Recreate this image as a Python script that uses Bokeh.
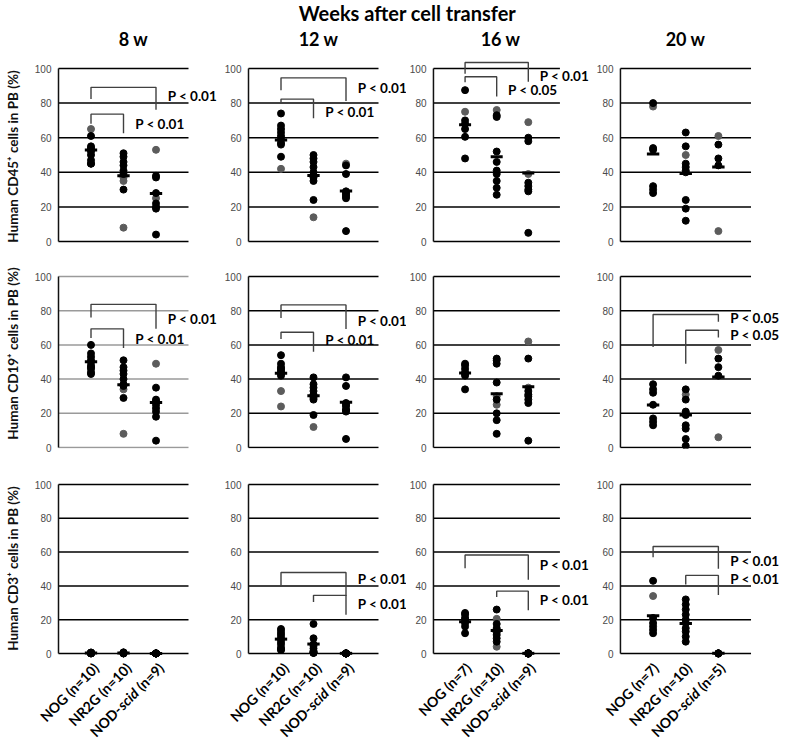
import math
from bokeh.plotting import figure
from bokeh.layouts import column, row
from bokeh.models import Range1d, FixedTicker
from bokeh.core.properties import value
from bokeh.embed import file_html
from bokeh.resources import INLINE

# ---------------- categories / labels ----------------
groups = ["NOG", "NR2G", "NOD-scid"]
group_x = [1, 2, 3]
week_titles = ["8 w", "12 w", "16 w", "20 w"]
main_title = "Weeks after cell transfer"
row_titles = ["Human CD45\u207a cells in PB (%)",
              "Human CD19\u207a cells in PB (%)",
              "Human CD3\u207a cells in PB (%)"]
n_mice = [[10, 10, 9], [10, 10, 9], [7, 10, 9], [7, 10, 5]]
y_ticks = [0, 20, 40, 60, 80, 100]

# ---------------- CD45 ----------------
cd45_w8_black = [[61, 55, 54, 53, 52, 50, 47, 45, 45], [51, 49, 46, 44, 41, 39, 30], [38, 37, 28, 22, 20, 19, 4]]
cd45_w8_gray = [[65], [37, 35, 8], [53, 25]]
cd45_w8_mean = [52.9, 38.0, 27.7]
cd45_w8_br = [(1, 3, 89.1, 82.4, 76.2, "P < 0.01", 84.0), (1, 2, 73.6, 68.0, 62.6, "P < 0.01", 67.8)]

cd45_w12_black = [[74, 67, 65, 63, 61, 59, 57, 56, 49], [50, 48, 46, 43, 40, 38, 37, 35, 24], [44, 39, 29, 28, 27, 26, 25, 6]]
cd45_w12_gray = [[42], [14], [45]]
cd45_w12_mean = [58.7, 38.1, 29.2]
cd45_w12_br = [(1, 3, 94.6, 87.5, 81.2, "P < 0.01", 88.5), (1, 2, 82.3, 79.8, 71.2, "P < 0.01", 75.0)]

cd45_w16_black = [[87.5, 70, 68, 65, 60.5, 48], [73, 72, 52, 46, 41, 39, 35, 31, 27], [60, 58, 34, 32, 30, 29, 5]]
cd45_w16_gray = [[75], [76], [69, 39]]
cd45_w16_mean = [67.5, 49.0, 39.6]
cd45_w16_br = [(1, 3, 103.5, 97.0, 92.3, "P < 0.01", 95.8), (1, 2, 95.2, 92.0, 83.8, "P < 0.05", 87.5)]

cd45_w20_black = [[80, 54, 53, 32, 30, 28], [63, 55, 45, 43, 41, 40, 24, 19, 12], [56, 48, 44]]
cd45_w20_gray = [[78], [50], [61, 6]]
cd45_w20_mean = [50.6, 39.3, 43.1]
cd45_w20_br = []

# ---------------- CD19 ----------------
cd19_w8_black = [[60, 55, 53, 51, 50, 48, 47, 46, 44, 43], [51, 47, 45, 43, 40, 37, 36, 29], [35, 28, 27, 25, 23, 21, 18, 4]]
cd19_w8_gray = [[], [34, 8], [49]]
cd19_w8_mean = [50.2, 36.7, 26.3]
cd19_w8_br = [(1, 3, 83.7, 76.0, 69.4, "P < 0.01", 75.3), (1, 2, 69.4, 64.0, 58.2, "P < 0.01", 63.7)]

cd19_w12_black = [[54, 49, 47, 46, 45, 44, 43, 42], [41, 37, 35, 33, 31, 30, 29, 28, 19], [41, 36, 26, 25, 24, 22, 22, 21, 5]]
cd19_w12_gray = [[33, 24], [12], []]
cd19_w12_mean = [43.4, 30.3, 26.4]
cd19_w12_br = [(1, 3, 83.4, 75.8, 69.3, "P < 0.01", 74.2), (1, 2, 67.4, 63.5, 56.0, "P < 0.01", 63.0)]

cd19_w16_black = [[49, 48, 46, 44, 43, 42, 34], [52, 51, 49, 38, 28, 20, 16, 8], [52, 33, 31, 30, 28, 26, 4]]
cd19_w16_gray = [[], [30, 25], [62, 35]]
cd19_w16_mean = [43.5, 31.5, 35.5]
cd19_w16_br = []

cd19_w20_black = [[37, 34, 32, 25, 17, 15, 13], [34, 28, 21, 20, 19, 13, 11, 5, 1], [52, 47, 42]]
cd19_w20_gray = [[], [31], [57, 6]]
cd19_w20_mean = [24.9, 19.0, 41.2]
cd19_w20_br = [(1, 3, 77.8, 58.8, 73.5, "P < 0.05", 75.5), (2, 3, 68.6, 49.0, 64.3, "P < 0.05", 66.0)]

# ---------------- CD3 ----------------
cd3_w8_black = [[0.6, 0.5, 0.4, 0.3, 0.3, 0.2, 0.2, 0.1, 0.1, 0.0],
                [0.7, 0.5, 0.4, 0.3, 0.3, 0.2, 0.2, 0.1, 0.1, 0.0],
                [0.1, 0.1, 0.1, 0.0, 0.0, 0.0, 0.0, 0.0, 0.0]]
cd3_w8_gray = [[], [], []]
cd3_w8_mean = [0.3, 0.3, 0.05]
cd3_w8_br = []

cd3_w12_black = [[14.5, 13, 11.5, 10, 8.5, 7, 5.5, 3.5, 2.5, 2], [17.5, 9, 5.5, 4.5, 3, 1.5, 1, 0.5, 0.5, 0.3],
                 [0.1, 0.1, 0.1, 0.0, 0.0, 0.0, 0.0, 0.0, 0.0]]
cd3_w12_gray = [[], [], []]
cd3_w12_mean = [8.5, 5.6, 0.1]
cd3_w12_br = [(1, 3, 47.9, 40.4, 34.0, "P < 0.01", 44.0), (2, 3, 34.4, 30.4, 22.9, "P < 0.01", 29.5)]

cd3_w16_black = [[24, 23, 21, 20, 18, 16, 12], [26, 17.5, 15, 12.5, 11, 9, 7], [0.1, 0.1, 0.1, 0.0, 0.0, 0.0, 0.0, 0.0, 0.0]]
cd3_w16_gray = [[], [20.5, 14, 4], []]
cd3_w16_mean = [18.8, 13.6, 0.1]
cd3_w16_br = [(1, 3, 58.3, 50.5, 43.7, "P < 0.01", 52.4), (2, 3, 36.9, 33.4, 25.6, "P < 0.01", 31.5)]

cd3_w20_black = [[43, 21, 18, 16, 14, 12], [32, 29, 26, 23, 20, 18, 15, 13, 10, 7], [0.1, 0.1, 0.0, 0.0, 0.0]]
cd3_w20_gray = [[34], [], []]
cd3_w20_mean = [22.3, 17.7, 0.1]
cd3_w20_br = [(1, 3, 63.3, 56.9, 50.1, "P < 0.01", 55.0), (2, 3, 46.2, 40.8, 34.6, "P < 0.01", 43.9)]

panels = [
    [(cd45_w8_black, cd45_w8_gray, cd45_w8_mean, cd45_w8_br),
     (cd45_w12_black, cd45_w12_gray, cd45_w12_mean, cd45_w12_br),
     (cd45_w16_black, cd45_w16_gray, cd45_w16_mean, cd45_w16_br),
     (cd45_w20_black, cd45_w20_gray, cd45_w20_mean, cd45_w20_br)],
    [(cd19_w8_black, cd19_w8_gray, cd19_w8_mean, cd19_w8_br),
     (cd19_w12_black, cd19_w12_gray, cd19_w12_mean, cd19_w12_br),
     (cd19_w16_black, cd19_w16_gray, cd19_w16_mean, cd19_w16_br),
     (cd19_w20_black, cd19_w20_gray, cd19_w20_mean, cd19_w20_br)],
    [(cd3_w8_black, cd3_w8_gray, cd3_w8_mean, cd3_w8_br),
     (cd3_w12_black, cd3_w12_gray, cd3_w12_mean, cd3_w12_br),
     (cd3_w16_black, cd3_w16_gray, cd3_w16_mean, cd3_w16_br),
     (cd3_w20_black, cd3_w20_gray, cd3_w20_mean, cd3_w20_br)],
]

# ---------------- layout (pixels) ----------------
FONT = "Lato"
TOTAL_W = 779
# columns: (axis x, figure left, figure right, plot width for x 0..4)
COLS = [(58, 0, 221, 130), (248, 221, 406, 130), (431, 406, 593, 128), (617, 593, TOTAL_W, 133)]
# rows: (fig top, fig bottom, frame top, frame bottom, y of 100, y of 0)
ROWS = [(54, 258, 54, 258, 68, 241), (258, 478, 258, 448, 276, 447), (478, 658, 478, 658, 484, 653)]
HEADER_H = 54
BAND = (658, 741)
MAIN_TITLE_POS = (407, 12)
COL_TITLE_X = [133, 318, 500, 685]
COL_TITLE_Y = 38
TEXT_GAP = 0.36


def make_panel(r, c):
    black, gray, means, brackets = panels[r][c]
    ax, fl, fr, pw = COLS[c]
    ft, fb, frt, frb, y100, y0 = ROWS[r]
    k = (y0 - y100) / 100.0
    ux = pw / 4.0
    y_start = -(frb - y0) / k
    y_end = 100 + (y100 - frt) / k
    x_start = -3 / ux
    x_end = (fr - ax) / ux
    p = figure(width=fr - fl, height=fb - ft, title=None,
               x_range=Range1d(x_start, x_end), y_range=Range1d(y_start, y_end),
               x_axis_location=None, toolbar_location=None, output_backend="svg",
               min_border_left=ax - 3 - fl, min_border_right=0, min_border_top=frt - ft,
               min_border_bottom=fb - frb)
    p.outline_line_color = None
    p.xgrid.visible = False
    p.ygrid.visible = False
    p.background_fill_color = "white"
    p.border_fill_color = "white"
    yax = p.yaxis[0]
    yax.ticker = FixedTicker(ticks=y_ticks)
    yax.axis_line_color = None
    yax.major_tick_line_color = None
    yax.minor_tick_line_color = None
    yax.major_tick_out = 0
    yax.major_tick_in = 0
    yax.minor_tick_out = 0
    yax.minor_tick_in = 0
    yax.major_label_standoff = 4
    yax.major_label_text_font = "Liberation Sans"
    yax.major_label_text_font_size = "10px"
    yax.major_label_text_color = "#4a4a4a"
    if c == 0:
        yax.axis_label = row_titles[r]
        yax.axis_label_text_font = FONT
        yax.axis_label_text_font_style = "bold"
        yax.axis_label_text_font_size = "13.5px"
        yax.axis_label_text_color = "#111111"
        yax.axis_label_standoff = 11

    grid_color = "#9a9a9a" if (r == 1 and c == 0) else "#000000"
    p.segment(x0=[0] * len(y_ticks), y0=y_ticks, x1=[4] * len(y_ticks), y1=y_ticks,
              line_color=grid_color, line_width=1.5)
    p.segment(x0=[0], y0=[y_ticks[0]], x1=[0], y1=[y_ticks[-1]], line_color="#111111", line_width=1.5)

    for i, gx in enumerate(group_x):
        if gray[i]:
            p.scatter(x=[gx] * len(gray[i]), y=gray[i], size=7, color="#5c5c5c")
        if black[i]:
            p.scatter(x=[gx] * len(black[i]), y=black[i], size=7, color="#000000")
    p.segment(x0=[g - 0.19 for g in group_x], y0=means, x1=[g + 0.19 for g in group_x], y1=means,
              line_color="#000000", line_width=3)

    if brackets:
        p.multi_line(xs=[[b[0], b[0], b[1], b[1]] for b in brackets],
                     ys=[[b[3], b[2], b[2], b[4]] for b in brackets],
                     line_color="#404040", line_width=1.4)
        p.text(x=[b[1] + TEXT_GAP for b in brackets], y=[b[6] for b in brackets],
               text=[b[5] for b in brackets], text_font=value(FONT), text_font_style="bold",
               text_font_size="13.5px", text_baseline="middle", text_align="left", text_color="#000000")
    return p


# ---- header: main title + week titles ----
header = figure(width=TOTAL_W, height=HEADER_H, title=None, x_range=Range1d(0, TOTAL_W),
                y_range=Range1d(0, HEADER_H), x_axis_location=None, y_axis_location=None,
                toolbar_location=None, output_backend="svg", min_border=0)
header.outline_line_color = None
header.xgrid.visible = False
header.ygrid.visible = False
header.text(x=[MAIN_TITLE_POS[0]], y=[HEADER_H - MAIN_TITLE_POS[1]], text=[main_title],
            text_font=value(FONT), text_font_style="bold", text_font_size="20px",
            text_align="center", text_baseline="middle", text_color="#000000")
header.text(x=COL_TITLE_X, y=[HEADER_H - COL_TITLE_Y] * 4, text=week_titles,
            text_font=value(FONT), text_font_style="bold", text_font_size="18px",
            text_align="center", text_baseline="middle", text_color="#000000")

# ---- band of rotated category labels under the bottom row ----
band_h = BAND[1] - BAND[0]
band = figure(width=TOTAL_W, height=band_h, title=None, x_range=Range1d(0, TOTAL_W),
              y_range=Range1d(0, band_h), x_axis_location=None, y_axis_location=None,
              toolbar_location=None, output_backend="svg", min_border=0)
band.outline_line_color = None
band.xgrid.visible = False
band.ygrid.visible = False
d = math.sqrt(0.5)
y0_bottom = ROWS[2][5]
LABEL_SIZE = 14.0
W_N = 2.32 * LABEL_SIZE      # "(n=9)"
W_SP = 0.21 * LABEL_SIZE     # space
W_SCID = 1.70 * LABEL_SIZE   # italic "scid"
lab = {"bold": ([], [], []), "bold italic": ([], [], [])}
for c in range(4):
    ax, fl, fr, pw = COLS[c]
    ux = pw / 4.0
    for i, gx in enumerate(group_x):
        n = n_mice[c][i]
        if i < 2:
            pieces = [(f"{groups[i]} (n={n})", "bold", 0.0)]
        else:
            pieces = [(f"(n={n})", "bold", 0.0), ("scid", "bold italic", W_N + W_SP),
                      ("NOD-", "bold", W_N + W_SP + W_SCID)]
        for txt, style, back in pieces:
            px = ax + gx * ux + 5 - back * d
            py = (y0_bottom + 12) + back * d
            lab[style][0].append(px)
            lab[style][1].append(BAND[1] - py)
            lab[style][2].append(txt)
for style, (xs, ys, ts) in lab.items():
    band.text(x=xs, y=ys, text=ts, angle=math.pi / 4, text_font=value(FONT), text_font_style=style,
              text_font_size=f"{LABEL_SIZE}px", text_align="right", text_baseline="middle",
              text_color="#000000")

rows_layout = [row(*[make_panel(r, c) for c in range(4)]) for r in range(3)]
layout = column(header, *rows_layout, band)

open("out.html", "w").write(file_html(layout, INLINE))
